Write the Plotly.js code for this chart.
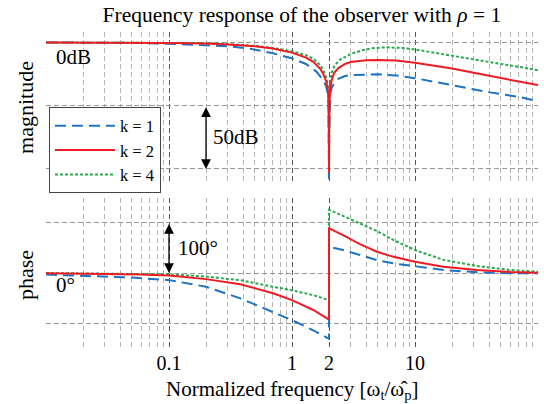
<!DOCTYPE html>
<html>
<head>
<meta charset="utf-8">
<script src="https://cdn.plot.ly/plotly-3.0.1.min.js"></script>
<style>html,body{margin:0;padding:0;background:#fff;}#chart{width:544px;height:404px;}</style>
</head>
<body>
<div id="chart"></div>
<script>
// ---- data ----
const seriesNames = ['k = 1', 'k = 2', 'k = 4'];
const xTickVals = [0.1, 1, 2, 10];
const xTickText = ['0.1', '1', '2', '10'];

// magnitude [dB]
const magF_k1  = [0.01, 0.03, 0.05, 0.1, 0.2, 0.3, 0.46, 0.7, 1.0, 1.3, 1.58, 1.8, 1.9, 1.95, 1.98, 1.995, 2.0, 2.005, 2.02, 2.05, 2.1, 2.2, 2.4, 2.7, 3.0, 4.0, 5.0, 7.0, 10, 20, 38, 70, 100];
const magDb_k1 = [0, -0.1, -0.3, -1.0, -2.0, -3.0, -5.0, -8.5, -12.5, -17, -23, -30, -35, -40, -48, -72, -110, -72, -48, -40, -36, -32, -28.5, -26.5, -25.8, -25.2, -25.2, -26, -28.2, -33.7, -39, -43, -46.4];

const magF_k2  = [0.01, 0.05, 0.1, 0.2, 0.3, 0.5, 0.7, 1.0, 1.3, 1.5, 1.7, 1.8, 1.9, 1.95, 1.98, 1.995, 2.0, 2.005, 2.02, 2.05, 2.1, 2.2, 2.4, 2.7, 3.0, 3.5, 4.0, 5.0, 6.0, 7.0, 10, 15, 20, 30, 40, 50, 70, 100];
const magDb_k2 = [0, 0, -0.3, -0.8, -1.5, -3.0, -4.8, -8.0, -12, -15.5, -21, -25, -31, -36, -45, -70, -103, -70, -45, -36, -30, -24, -20, -17, -15.5, -14.5, -14, -13.8, -13.9, -14.3, -16, -18.5, -20.5, -24, -26.3, -28, -30.7, -33.7];

const magF_k4  = [0.01, 0.1, 0.2, 0.3, 0.5, 0.7, 1.0, 1.3, 1.5, 1.7, 1.8, 1.9, 1.95, 1.98, 2.0, 2.02, 2.05, 2.1, 2.2, 2.3, 2.5, 2.77, 3.0, 3.8, 4.5, 5.8, 7.9, 10, 15, 20, 30, 40, 50, 70, 100];
const magDb_k4 = [0, 0, -0.5, -1.2, -2.7, -4.3, -7.0, -10, -13, -18, -22, -28, -33, -40, -98, -40, -30, -24, -19, -16.5, -13, -11, -9, -6, -4.5, -3.8, -4.3, -5.5, -8.5, -10.5, -13.5, -15.7, -17, -19.2, -22];

// phase [deg]
const phF_k1  = [0.01, 0.02, 0.05, 0.1, 0.2, 0.38, 0.7, 1.0, 1.49, 2.0, 2.0, 2.6, 3.57, 4.9, 6.7, 10, 17, 32, 59, 100];
const phDeg_k1 = [-3, -5, -9, -14, -27, -50, -77, -93, -113, -130, 52, 45.5, 35.6, 25.7, 19, 14, 6, 1.4, -0.5, -0.5];

const phF_k2  = [0.01, 0.03, 0.058, 0.1, 0.2, 0.38, 0.7, 1.0, 1.49, 2.0, 2.0, 2.6, 3.57, 4.9, 6.7, 10, 17, 32, 59, 100];
const phDeg_k2 = [-0.5, -1.5, -3, -5, -12, -22, -40, -53.5, -73, -92, 88.5, 75, 57, 42, 32, 22.4, 12.5, 6, 2, 0.6];

const phF_k4  = [0.01, 0.058, 0.1, 0.2, 0.38, 0.7, 1.0, 1.49, 2.0, 2.0, 2.6, 3.57, 4.9, 6.7, 10, 17, 32, 59, 100];
const phDeg_k4 = [0, -2, -2.6, -7, -14, -27, -34, -43.6, -53.5, 125, 113, 98, 83, 65, 45.5, 26, 14, 6, 2.6];

// ---- styling ----
const FONT = '"Liberation Serif", "Times New Roman", serif';
const colors = ['rgb(30,115,195)', 'rgb(237,28,36)', 'rgb(40,170,75)'];
const dashes = ['11px,6px', 'solid', '3px,2px'];

function mk(x, y, i, xa, ya, show) {
  return {
    type: 'scatter', mode: 'lines', x: x, y: y, xaxis: xa, yaxis: ya,
    name: seriesNames[i], showlegend: show, legendrank: i + 1,
    line: {color: colors[i], width: 2, dash: dashes[i]},
    hoverinfo: 'skip'
  };
}

// draw order: k=1, k=4, k=2 (red on top)
const traces = [
  mk(magF_k1, magDb_k1, 0, 'x', 'y', true),
  mk(magF_k4, magDb_k4, 2, 'x', 'y', true),
  mk(magF_k2, magDb_k2, 1, 'x', 'y', true),
  mk(phF_k1, phDeg_k1, 0, 'x2', 'y2', false),
  mk(phF_k4, phDeg_k4, 2, 'x2', 'y2', false),
  mk(phF_k2, phDeg_k2, 1, 'x2', 'y2', false)
];

const minorVals = [];
[0.01, 0.1, 1, 10].forEach(d => { for (let m = 1; m <= 9; m++) minorVals.push(+(d * m).toPrecision(3)); });
minorVals.push(100);

function xaxisDef(showLabels) {
  return {
    type: 'log', range: [-2, 2], showline: false, zeroline: false,
    tickmode: 'array', tickvals: xTickVals, ticktext: xTickText,
    showticklabels: showLabels, ticks: '', ticklabelstandoff: 0,
    tickfont: {family: FONT, size: 20, color: '#000'},
    showgrid: true, gridcolor: '#555', griddash: '5px,3px', gridwidth: 1,
    minor: {tickmode: 'array', tickvals: minorVals, showgrid: true, gridcolor: '#b5b5b5', griddash: '5px,3px', gridwidth: 1, ticks: ''}
  };
}

const xa1 = xaxisDef(false);
xa1.anchor = 'y';
const xa2 = xaxisDef(true);
xa2.anchor = 'y2';

const layout = {
  width: 544, height: 404,
  margin: {l: 46, r: 6, t: 32, b: 55},
  paper_bgcolor: '#fff', plot_bgcolor: '#fff',
  font: {family: FONT, color: '#000'},
  title: {text: 'Frequency response of the observer with <i>ρ</i> = 1', font: {family: FONT, size: 21.5, color: '#000'}, x: 0.52, xanchor: 'center', y: 0.965, yanchor: 'middle', yref: 'container', xref: 'paper'},
  xaxis: xa1,
  xaxis2: xa2,
  yaxis: {domain: [0.524, 1], range: [-111, 8.3], tickmode: 'array', tickvals: [0, -50, -100], showticklabels: false, ticks: '', zeroline: false, showline: false, showgrid: true, gridcolor: '#999', griddash: '5px,3px', gridwidth: 1},
  yaxis2: {domain: [0, 0.476], range: [-150, 148], tickmode: 'array', tickvals: [-100, 0, 100], showticklabels: false, ticks: '', zeroline: false, showline: false, showgrid: true, gridcolor: '#999', griddash: '5px,3px', gridwidth: 1},
  showlegend: true,
  legend: {x: 0.006, y: 0.762, xanchor: 'left', yanchor: 'top', bgcolor: '#fff', bordercolor: '#444', borderwidth: 1, font: {family: FONT, size: 16.5, color: '#000'}, itemwidth: 60, tracegroupgap: 0, traceorder: 'normal'},
  annotations: [
    {xref: 'paper', yref: 'paper', x: 0.5, y: -0.129, xanchor: 'center', yanchor: 'middle', text: 'Normalized frequency [ω<sub>t</sub>/ω&#770;<sub>p</sub>]', showarrow: false, font: {family: FONT, size: 21, color: '#000'}},
    {xref: 'paper', yref: 'paper', x: -0.043, y: 0.763, xanchor: 'center', yanchor: 'middle', text: 'magnitude', textangle: -90, showarrow: false, font: {family: FONT, size: 22, color: '#000'}},
    {xref: 'paper', yref: 'paper', x: -0.043, y: 0.233, xanchor: 'center', yanchor: 'middle', text: 'phase', textangle: -90, showarrow: false, font: {family: FONT, size: 22, color: '#000'}},
    {xref: 'paper', yref: 'y', x: 0.016, y: -11.5, xanchor: 'left', yanchor: 'middle', text: '0dB', showarrow: false, font: {family: FONT, size: 21, color: '#000'}},
    {xref: 'paper', yref: 'y2', x: 0.016, y: -24, xanchor: 'left', yanchor: 'middle', text: '0°', showarrow: false, font: {family: FONT, size: 21, color: '#000'}},
    {xref: 'paper', yref: 'y', x: 0.335, y: -75, xanchor: 'left', yanchor: 'middle', text: '50dB', showarrow: false, font: {family: FONT, size: 21, color: '#000'}},
    {xref: 'paper', yref: 'y2', x: 0.265, y: 49.5, xanchor: 'left', yanchor: 'middle', text: '100°', showarrow: false, font: {family: FONT, size: 21, color: '#000'}},
    {xref: 'x', yref: 'y', axref: 'x', ayref: 'y', x: Math.log10(0.2), y: -100, ax: Math.log10(0.2), ay: -50, text: '', showarrow: true, arrowhead: 2, startarrowhead: 2, arrowside: 'end+start', arrowsize: 1.5, startarrowsize: 1.5, arrowwidth: 1.3, arrowcolor: '#000', standoff: 0, startstandoff: 0},
    {xref: 'x2', yref: 'y2', axref: 'x2', ayref: 'y2', x: Math.log10(0.1), y: 0, ax: Math.log10(0.1), ay: 100, text: '', showarrow: true, arrowhead: 2, startarrowhead: 2, arrowside: 'end+start', arrowsize: 1.5, startarrowsize: 1.5, arrowwidth: 1.3, arrowcolor: '#000', standoff: 0, startstandoff: 0}
  ]
};

Plotly.newPlot('chart', traces, layout, {staticPlot: true, displayModeBar: false});
</script>
</body>
</html>
